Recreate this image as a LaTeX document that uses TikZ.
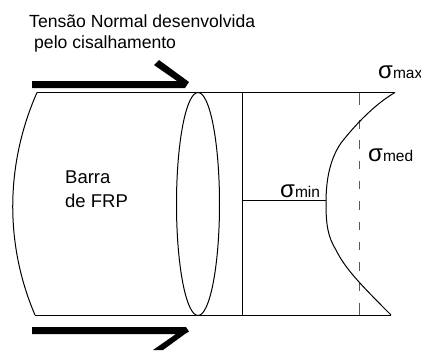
\documentclass[tikz,border=0pt]{standalone}
\usepackage{fontspec}
\setmainfont{Liberation Sans}
\usepackage{tikz}
\usetikzlibrary{positioning, shapes.geometric}
\newcommand{\sigmagrande}{{\fontsize{24}{24}\selectfont σ}}
\tikzset{
    rotulo/.style={
        inner sep=0pt,
        anchor=base west,
        align=left,
        font=\fontsize{17.6}{20}\selectfont
    },
    rotulobarra/.style={
        rotulo,
        font=\fontsize{18.5}{20}\selectfont
    },
    tensao/.style={
        inner sep=0pt,
        anchor=base west,
        font=\fontsize{15.5}{18}\selectfont
    },
    contorno/.style={line width=1pt, black},
    media/.style={line width=1pt, gray!70!black},
    seta/.style={fill=black, draw=none}
}

\begin{document}
\begin{tikzpicture}[x=1pt,y=-1pt]

    \useasboundingbox (0,0) rectangle (421,351);

    \coordinate (supesq) at (37,92.5);
    \coordinate (supdir) at (395,92.5);
    \coordinate (infesq) at (35,315);
    \coordinate (infdir) at (391,315);
    \coordinate (linsup) at (242.5,92.5);
    \coordinate (lininf) at (242.5,315);
    \coordinate (medsup) at (359,92.5);
    \coordinate (medini) at (359,105);
    \coordinate (medfim) at (359,303);
    \coordinate (medinf) at (359,315);
    \coordinate (minesq) at (242.5,200.5);
    \coordinate (mindir) at (326,200.5);

    \node[rotulo] (titulo) at (29,27) {Tensão Normal desenvolvida};
    \node[rotulo] (subtitulo) at (34,48) {pelo cisalhamento};
    \node[rotulobarra] (barra) at (65,183) {Barra};
    \node[rotulobarra] (frp) at (65,207) {de FRP};

    \node[tensao] (smax) at (378,78) {\sigmagrande max};
    \node[tensao] (smed) at (368,161) {\sigmagrande med};
    \node[tensao] (smin) at (280,197) {\sigmagrande min};

    % barra
    \draw[contorno] (supesq) -- (supdir);
    \draw[contorno] (infesq) -- (infdir);
    \draw[contorno] (supesq) .. controls (5,165) and (5,245) .. (infesq);
    \node[draw, contorno, ellipse, minimum width=43pt, minimum height=223pt, inner sep=0pt] (secao) at (198,204) {};

    % diagrama
    \draw[contorno] (linsup) -- (lininf);
    \draw[media] (medsup) -- (medini);
    \draw[media, dash pattern=on 8.5pt off 11.8pt, dash phase=0pt] (359,120) -- (medfim);
    \draw[media] (medfim) -- (medinf);
    \draw[contorno] (minesq) -- (mindir);
    \draw[contorno] (supdir) .. controls (375,104) and (355,125) .. (341,143)
        .. controls (328,162) and (326,185) .. (326,204)
        .. controls (326,225) and (328,237) .. (336,250)
        .. controls (345,268) and (358,282) .. (infdir);

    % setas
    \fill[seta] (32,81) -- (177,81) -- (154,65) -- (159,60) -- (189,82) -- (185,88) -- (32,88) -- cycle;
    \fill[seta] (32,327) -- (186,327) -- (189,331.5) -- (185,334) -- (163,350) -- (153,350) -- (176,334) -- (32,334) -- cycle;

\end{tikzpicture}
\end{document}
